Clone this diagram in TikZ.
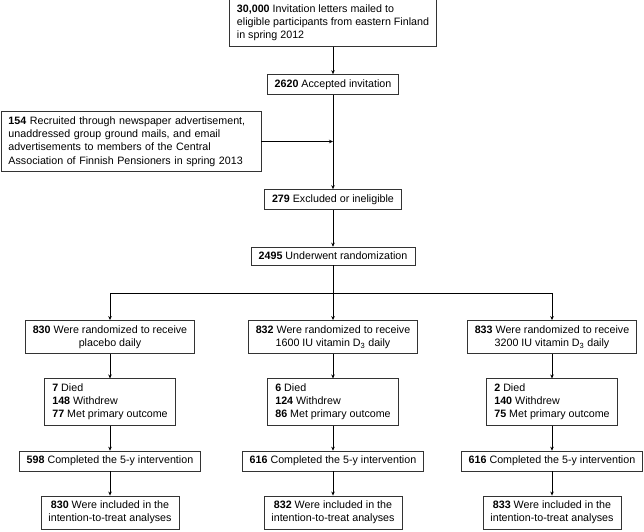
\documentclass[tikz,border=0pt]{standalone}
\usepackage{fontspec}
\setmainfont{Liberation Sans}
\usetikzlibrary{arrows.meta}

\begin{document}
\begin{tikzpicture}[x=1pt, y=-1pt,
    box/.style={draw=black!80, line width=0.7pt, align=center, inner xsep=7.5pt, inner ysep=5pt,
      font=\fontsize{10.7}{13.2}\selectfont},
    leftbox/.style={box, align=left},
    flow/.style={line width=0.9pt, -{Stealth[length=4pt, width=3.5pt]}}]
    \useasboundingbox (0,0) rectangle (644,531);

    % Recruitment
    \node[leftbox] (invite) at (333,23) {\textbf{30,000} Invitation letters mailed to\\ eligible participants from eastern Finland\\ in spring 2012};
    \node[box] (accepted) at (333,84.5) {\textbf{2620} Accepted invitation};
    \node[leftbox, text width=245pt] (recruited) at (131,141.5) {\textbf{154} Recruited through newspaper advertisement,\\ unaddressed group ground mails, and email\\ advertisements to members of the Central\\ Association of Finnish Pensioners in spring 2013};
    \node[box] (excluded) at (333,199.5) {\textbf{279} Excluded or ineligible};
    \node[box] (randomized) at (333,256) {\textbf{2495} Underwent randomization};

    % Join and split points
    \coordinate (join) at (333,141.5);
    \coordinate (split) at (333,293);

    % Groups
    \node[box] (recA) at (110,337) {\textbf{830} Were randomized to receive\\ placebo daily};
    \node[box] (recB) at (333,337) {\textbf{832} Were randomized to receive\\ 1600 IU vitamin D\textsubscript{3} daily};
    \node[box] (recC) at (552,337) {\textbf{833} Were randomized to receive\\ 3200 IU vitamin D\textsubscript{3} daily};

    \node[leftbox] (lossA) at (110,402) {\textbf{7} Died\\ \textbf{148} Withdrew\\ \textbf{77} Met primary outcome};
    \node[leftbox] (lossB) at (333,402) {\textbf{6} Died\\ \textbf{124} Withdrew\\ \textbf{86} Met primary outcome};
    \node[leftbox] (lossC) at (552,402) {\textbf{2} Died\\ \textbf{140} Withdrew\\ \textbf{75} Met primary outcome};

    \node[box] (doneA) at (110,461) {\textbf{598} Completed the 5-y intervention};
    \node[box] (doneB) at (333,461) {\textbf{616} Completed the 5-y intervention};
    \node[box] (doneC) at (552,461) {\textbf{616} Completed the 5-y intervention};

    \node[box] (ittA) at (110,512.5) {\textbf{830} Were included in the\\ intention-to-treat analyses};
    \node[box] (ittB) at (333,512.5) {\textbf{832} Were included in the\\ intention-to-treat analyses};
    \node[box] (ittC) at (552,512.5) {\textbf{833} Were included in the\\ intention-to-treat analyses};

    % Connectors
    \draw[flow] (invite) -- (accepted);
    \draw[flow] (accepted) -- (excluded);
    \draw[flow] (recruited) -- (join);
    \draw[flow] (excluded) -- (randomized);
    \draw[flow] (randomized) -- (recB);
    \draw[flow] (split) -| (recA);
    \draw[flow] (split) -| (recC);
    \foreach \g in {A,B,C} {
      \draw[flow] (rec\g) -- (loss\g);
      \draw[flow] (loss\g) -- (done\g);
      \draw[flow] (done\g) -- (itt\g);
    }
\end{tikzpicture}
\end{document}
